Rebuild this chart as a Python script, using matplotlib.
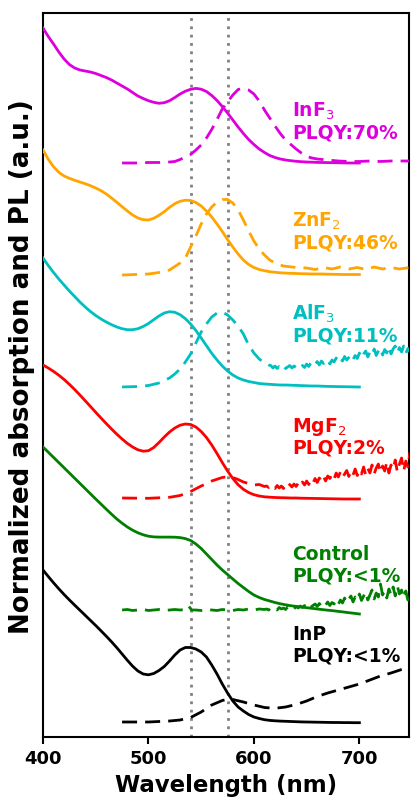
import matplotlib
matplotlib.use("Agg")
import matplotlib.pyplot as plt

# ---------------- data (arbitrary units, curves stacked with offsets) ----------------
wl_abs = [400, 405, 410, 415, 420, 425, 430, 435, 440, 445, 450, 455, 460, 465, 470,
          475, 480, 485, 490, 495, 500, 505, 510, 515, 520, 525, 530, 535, 540, 545,
          550, 555, 560, 565, 570, 575, 580, 585, 590, 595, 600, 605, 610, 615, 620,
          625, 630, 635, 640, 645, 650, 655, 660, 665, 670, 675, 680, 685, 690, 695, 700]

abs_inf3 = [709, 700.5, 693, 685, 678, 672.5, 669, 667, 666, 665, 663.5, 661.5, 659.5, 657, 654,
            651, 648, 644.5, 641, 638.5, 636.3, 634.7, 633.7, 634.3, 636.3, 639.5, 643, 645.8, 647.7, 648.6,
            647.8, 645.5, 641.5, 636.5, 630.5, 624, 617, 610, 603.5, 597.5, 592.5, 588, 584.5, 581.5, 579.5,
            578, 577, 576.3, 575.7, 575.3, 575, 574.8, 574.6, 574.5, 574.4, 574.3, 574.2, 574.1, 574, 574, 574]
abs_znf2 = [587, 577.7, 570.3, 564.7, 561, 558.7, 556.7, 555, 553.3, 551.3, 549, 546.3, 543, 539, 534.7,
            530.3, 526, 522, 519, 517.3, 517, 518.7, 521.7, 525.3, 529.7, 533.3, 535.7, 536.8, 536.5, 534.5,
            531, 526, 520, 513, 505.5, 497.5, 490, 483, 477, 472.5, 469.5, 467.5, 466.3, 465.3, 464.7,
            464.2, 463.9, 463.7, 463.5, 463.3, 463.2, 463, 463, 463, 462.8, 462.7, 462.6, 462.5, 462.5, 462.5, 462.5]
abs_alf3 = [479, 471.5, 464.5, 458, 452, 446, 440.5, 435, 430, 425.5, 421.5, 418, 415, 412.3, 410,
            408.3, 407.3, 407.3, 408.3, 410.5, 413.5, 417.3, 421, 424, 425.3, 424.7, 422.3, 418.3, 413, 406.5,
            399, 391.3, 383.7, 377, 371, 366, 362, 359, 357, 355.5, 354.5, 353.5, 353, 352.7, 352.3,
            352, 352, 351.8, 351.6, 351.4, 351.2, 351, 351, 350.8, 350.6, 350.5, 350.4, 350.3, 350.2, 350.1, 350]
abs_mgf2 = [372, 369, 365.6, 361.8, 357.5, 352.7, 347.5, 342, 336.3, 330.5, 324.7, 319, 313.4, 308, 302.8,
            298, 293.6, 290, 287.2, 285.8, 286.3, 289.5, 294.5, 300, 305, 309, 311.8, 313, 312.5, 310,
            305.5, 299.5, 292, 283.5, 274.5, 266, 258.5, 252.3, 247.7, 244.5, 242.3, 241, 240.2, 239.8, 239.5,
            239.3, 239.2, 239, 239, 238.8, 238.7, 238.6, 238.5, 238.4, 238.3, 238.2, 238.1, 238, 238, 238, 238]
abs_ctrl = [290, 284.8, 279.6, 274.4, 269.2, 264, 258.8, 253.6, 248.4, 243.2, 238, 232.9, 227.8, 222.8, 218,
            213.8, 210, 206.8, 204.2, 202.2, 200.8, 200.1, 199.9, 199.9, 199.9, 199.8, 199.4, 198.4, 196.5, 193,
            188.5, 183, 177.5, 172, 167, 162.5, 158, 153.5, 149.5, 145.5, 142, 139.5, 137.5, 136, 134.5,
            133.2, 132.2, 131.3, 130.6, 130, 129.3, 128.7, 128, 127.4, 126.8, 126.3, 125.6, 125, 124.3, 123.7, 123]
abs_inp = [167, 160.5, 154.2, 148.2, 142.5, 137.1, 131.9, 126.8, 121.7, 116.6, 111.5, 106.2, 100.8, 95.2, 89.3,
           83, 76.7, 70.8, 66, 63, 62.2, 63.5, 66.5, 70.5, 76, 82, 87, 89.5, 89.5, 88,
           85, 80, 72, 63, 53, 44, 36, 30, 26, 22.5, 20, 18.5, 17.3, 16.6, 16.2,
           15.9, 15.7, 15.5, 15.3, 15.1, 15, 14.9, 14.8, 14.7, 14.6, 14.5, 14.5, 14.4, 14.4, 14.3, 14.3]

wl_pl_inf3 = [475, 490, 500, 510, 520, 525, 530, 535, 540, 545, 550, 555, 560, 565, 570,
              575, 580, 585, 590, 595, 600, 605, 610, 615, 620, 625, 630, 635, 640, 645,
              650, 655, 660, 670, 680, 690, 700, 710, 720, 730, 740, 748]
pl_inf3 = [574, 574, 574.5, 574.5, 575, 575.5, 577.5, 580, 582.5, 587, 592, 599, 607.5, 617.5, 628,
           635, 642, 647.5, 648.5, 647, 643, 636, 627, 619, 611, 603.5, 597, 592.5, 588, 584,
           580.5, 579, 578, 577, 576, 575.5, 575.5, 576, 575.5, 576, 576, 576]

wl_pl_znf2 = [475, 500, 510, 520, 530, 535, 540, 545, 550, 555, 560, 565, 570, 575, 580,
              585, 590, 595, 600, 605, 610, 615, 620, 628, 640, 650, 658, 666, 674, 682,
              690, 698, 706, 714, 722, 730, 738, 748]
pl_znf2 = [462, 463, 464.5, 467, 474, 479, 490, 501, 513, 523, 530, 535, 537.5, 537.5, 534,
           527, 517, 506, 496, 488, 482, 477, 474, 471, 469.5, 469, 467.5, 469.5, 468, 470,
           468, 469.5, 467.5, 470, 468, 469.5, 468, 469.5]

wl_pl_alf3 = [475, 490, 500, 510, 520, 525, 530, 535, 540, 545, 550, 555, 560, 565, 570,
              575, 580, 585, 590, 595, 600, 605, 610,
              612, 614, 616, 618, 620, 622, 624, 626, 628, 630, 632, 634, 636, 638, 640, 642,
              644, 646, 648, 650, 652, 654, 656, 658, 660, 662, 664, 666, 668, 670, 672, 674,
              676, 678, 680, 682, 684, 686, 688, 690, 692, 694, 696, 698, 700, 702, 704, 706,
              708, 710, 712, 714, 716, 718, 720, 722, 724, 726, 728, 730, 732, 734, 736, 738,
              740, 742, 744, 746, 748]
pl_alf3 = [350, 350.5, 351.5, 354, 359, 363, 368, 375, 383, 394, 405, 413, 420, 424, 425,
           422, 417, 411, 403, 392, 384, 378, 374,
           373.5, 372, 371.5, 369, 371, 368.5, 370.5, 369, 371.5, 368.5, 370, 371.5, 369, 371, 369.5, 372,
           370, 371.5, 369.5, 373, 370.5, 374, 371, 372.5, 375.5, 372, 376, 373.5, 375, 377.5, 373, 377,
           375, 379, 375.5, 378.5, 376, 380.5, 377, 379.5, 382, 377.5, 381.5, 378.5, 384, 379, 383, 386,
           380, 385, 382, 388, 381.5, 386, 389, 382, 387.5, 384, 390.5, 383, 388, 391, 384, 389.5,
           385, 391, 383.5, 388.5, 385]

wl_pl_mgf2 = [475, 500, 520, 530, 540, 550, 560, 570, 575, 580, 585, 590, 595, 600, 605, 610,
              612, 614, 616, 618, 620, 622, 624, 626, 628, 630, 632, 634, 636, 638, 640, 642,
              644, 646, 648, 650, 652, 654, 656, 658, 660, 662, 664, 666, 668, 670, 672, 674,
              676, 678, 680, 682, 684, 686, 688, 690, 692, 694, 696, 698, 700, 702, 704, 706,
              708, 710, 712, 714, 716, 718, 720, 722, 724, 726, 728, 730, 732, 734, 736, 738,
              740, 742, 744, 746, 748]
pl_mgf2 = [239, 238.7, 239.7, 241.5, 245.5, 251, 256, 259.5, 260.3, 259.5, 257.5, 255, 253.5, 252, 252.5, 250.5,
           251, 249.5, 252, 250, 248.5, 251.5, 249, 251, 248.5, 251.5, 249, 252.5, 250, 253, 250.5, 254,
           251, 255, 252, 256, 252.5, 257, 254, 258.5, 254.5, 259, 256, 260.5, 256, 261, 258.5, 262.5,
           258, 264, 260, 265, 259.5, 263, 266.5, 260.5, 266, 262, 268, 261.5, 267, 263, 270, 262,
           268.5, 264, 272, 263, 269, 273, 264.5, 271, 266, 275, 264, 272, 268, 277, 265, 273,
           279, 266, 276, 270, 285]

wl_pl_ctrl = [475, 480, 485, 490, 495, 500, 505, 510, 515, 520, 525, 530, 535, 538, 541,
              545, 550, 555, 560, 565, 570, 575, 580, 585, 590, 595, 600, 605, 610,
              612, 614, 616, 618, 620, 622, 624, 626, 628, 630, 632, 634, 636, 638, 640, 642,
              644, 646, 648, 650, 652, 654, 656, 658, 660, 662, 664, 666, 668, 670, 672, 674,
              676, 678, 680, 682, 684, 686, 688, 690, 692, 694, 696, 698, 700, 702, 704, 706,
              708, 710, 712, 714, 716, 718, 720, 722, 724, 726, 728, 730, 732, 734, 736, 738,
              740, 742, 744, 746, 748]
pl_ctrl = [127, 127.5, 126.5, 127, 127.5, 126.5, 127, 127.5, 126.5, 127, 127.5, 127, 127.5, 131, 127,
           127, 126.5, 127.5, 127, 126.5, 127.5, 127, 126.5, 127.5, 127, 128, 127, 128, 127.5,
           128, 127, 129, 127.5, 128.5, 127, 129.5, 128, 129, 127.5, 130, 128.5, 130, 128, 130.5, 129,
           131, 129.5, 131.5, 129, 132, 130, 131.5, 133, 130.5, 133.5, 131, 134, 132, 135, 131.5, 134.5,
           133, 136.5, 132.5, 137, 134, 139, 134.5, 138, 141, 135, 140, 137, 143, 136.5, 141, 145,
           137, 142, 147, 138, 144, 140, 153, 142, 146, 139, 148, 142, 150, 141, 151, 143,
           147, 139, 146, 137, 141]

wl_pl_inp = [475, 500, 520, 530, 540, 550, 560, 570, 575, 580, 590, 600, 610, 620, 630,
             640, 650, 660, 670, 680, 690, 700, 710, 720, 730, 740, 748]
pl_inp = [15, 15, 16, 17, 19.5, 25, 32, 36.5, 37.7, 37.5, 35, 32, 29.5, 28.7, 30,
          32.5, 36, 40.5, 44, 47, 50, 53, 57, 61, 64, 67.5, 69.5]

names = ["InF$_3$", "ZnF$_2$", "AlF$_3$", "MgF$_2$", "Control", "InP"]
plqy = ["PLQY:70%", "PLQY:46%", "PLQY:11%", "PLQY:2%", "PLQY:<1%", "PLQY:<1%"]
label_y = [620, 510, 417, 305, 177, 97]
ref_lines = [540, 575]
xticks = [400, 500, 600, 700]

colors = ["#dd00dd", "#ffa500", "#00bfc0", "#ff0000", "#008000", "#000000"]

# ---------------- plotting ----------------
fig = plt.figure(figsize=(4.11, 8.0), dpi=100)
ax = fig.add_axes([0.1046, 0.07875, 0.8904, 0.905])

abs_sets = [abs_inf3, abs_znf2, abs_alf3, abs_mgf2, abs_ctrl, abs_inp]
pl_sets = [(wl_pl_inf3, pl_inf3), (wl_pl_znf2, pl_znf2), (wl_pl_alf3, pl_alf3),
           (wl_pl_mgf2, pl_mgf2), (wl_pl_ctrl, pl_ctrl), (wl_pl_inp, pl_inp)]

for x in ref_lines:
    ax.axvline(x, color="#808080", ls=(0, (1, 2)), lw=2, zorder=1)

for a, (wx, p), c in zip(abs_sets, pl_sets, colors):
    ax.plot(wl_abs, a, color=c, lw=2, zorder=3, solid_joinstyle="round")
    ax.plot(wx, p, color=c, lw=2, ls=(0, (5.4, 2.9)), zorder=3)

for n, q, y, c in zip(names, plqy, label_y, colors):
    ax.text(636, y, n, color=c, fontsize=13.5, fontweight="bold", va="baseline", ha="left")
    ax.text(636, y - 21.5, q, color=c, fontsize=13.5, fontweight="bold", va="baseline", ha="left")

ax.set_xlim(400, 747)
ax.set_ylim(0, 724)
ax.set_xticks(xticks)
ax.set_xticklabels([str(t) for t in xticks], fontsize=13, fontweight="bold")
ax.set_yticks([])
ax.tick_params(axis="x", direction="out", length=5, width=1.5, pad=4)
for s in ax.spines.values():
    s.set_linewidth(1.5)
ax.set_xlabel("Wavelength (nm)", fontsize=16.5, fontweight="bold", labelpad=5)
ax.set_ylabel("Normalized absorption and PL (a.u.)", fontsize=18.8, fontweight="bold")
ax.yaxis.set_label_coords(-0.022, 0.511)

fig.savefig("out.png", dpi=100)
